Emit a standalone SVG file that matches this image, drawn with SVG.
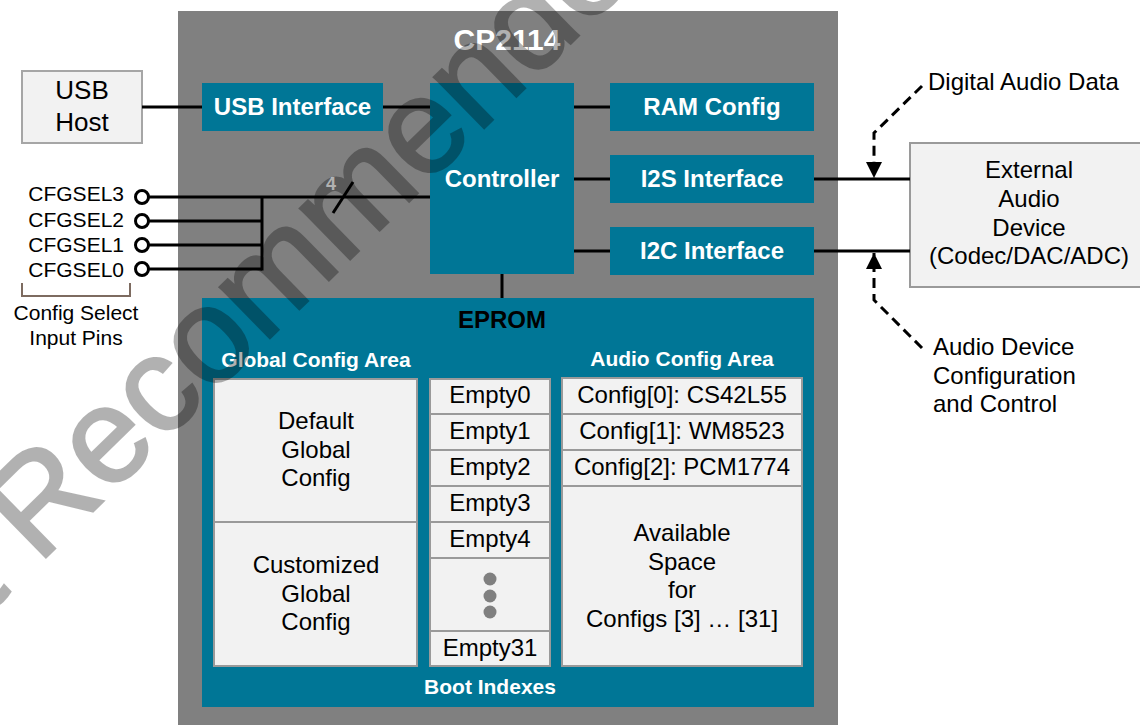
<svg xmlns="http://www.w3.org/2000/svg" width="1140" height="725" viewBox="0 0 1140 725">
<style>
  .t { font-family: "Liberation Sans", Arial, sans-serif; fill: #000; }
  .c { text-anchor: middle; }
  .r24 { font-size: 24px; }
  .r21 { font-size: 21px; }
  .bw { font-weight: bold; fill: #fff; }
  .teal { fill: #007696; }
  .cell { fill: #f2f2f2; stroke: #9a9a9a; stroke-width: 2; }
  .wire { stroke: #000; stroke-width: 3; fill: none; }
  .dash { stroke: #000; stroke-width: 3; fill: none; stroke-dasharray: 10 6; }
  .pin { fill: #fff; stroke: #000; stroke-width: 3; }
  .dot { fill: #808080; }
</style>
<defs>
  <marker id="ah" markerUnits="userSpaceOnUse" markerWidth="18" markerHeight="18" refX="16" refY="8" orient="auto">
    <path d="M0,0 L16,8 L0,16 z" fill="#000"/>
  </marker>
</defs>
<rect width="1140" height="725" fill="#fff"/>

<g id="cp2114">
  <rect x="178" y="11" width="660" height="720" fill="#808080"/>
  <text class="t bw c" x="507" y="50" font-size="30">CP2114</text>
</g>

<g id="usb-host">
  <rect x="22" y="71" width="120" height="72" fill="#f2f2f2" stroke="#a6a6a6" stroke-width="2"/>
  <text class="t c" font-size="26" x="82" y="99">USB</text>
  <text class="t c" font-size="26" x="82" y="131">Host</text>
</g>

<g id="usb-interface">
  <rect class="teal" x="202" y="83" width="181" height="48"/>
  <text class="t bw c" font-size="24" x="292.5" y="115">USB Interface</text>
</g>

<g id="controller">
  <rect class="teal" x="430" y="83" width="144" height="191"/>
  <text class="t bw c" font-size="24" x="502" y="187">Controller</text>
</g>

<g id="ram-config">
  <rect class="teal" x="610" y="83" width="204" height="48"/>
  <text class="t bw c" font-size="24" x="712" y="115">RAM Config</text>
</g>

<g id="i2s-interface">
  <rect class="teal" x="610" y="155" width="204" height="48"/>
  <text class="t bw c" font-size="24" x="712" y="187">I2S Interface</text>
</g>

<g id="i2c-interface">
  <rect class="teal" x="610" y="227" width="204" height="48"/>
  <text class="t bw c" font-size="24" x="712" y="259">I2C Interface</text>
</g>

<g id="eprom">
  <rect class="teal" x="202" y="298" width="612" height="409"/>
  <text class="t c" font-weight="bold" font-size="24" x="502" y="328">EPROM</text>
  <text class="t bw c" font-size="21" x="316" y="367">Global Config Area</text>
  <text class="t bw c" font-size="21" x="682" y="366">Audio Config Area</text>
  <text class="t bw c" font-size="21" x="490" y="694">Boot Indexes</text>
</g>

<g id="global-config">
  <rect class="cell" x="214" y="379" width="203" height="143"/>
  <rect class="cell" x="214" y="522" width="203" height="144"/>
  <text class="t r24 c" x="316" y="429">Default</text>
  <text class="t r24 c" x="316" y="458">Global</text>
  <text class="t r24 c" x="316" y="486">Config</text>
  <text class="t r24 c" x="316" y="573">Customized</text>
  <text class="t r24 c" x="316" y="602">Global</text>
  <text class="t r24 c" x="316" y="630">Config</text>
</g>

<g id="boot-indexes">
  <rect class="cell" x="430" y="379" width="120" height="35"/>
  <rect class="cell" x="430" y="414" width="120" height="36"/>
  <rect class="cell" x="430" y="450" width="120" height="36"/>
  <rect class="cell" x="430" y="486" width="120" height="36"/>
  <rect class="cell" x="430" y="522" width="120" height="36"/>
  <rect class="cell" x="430" y="558" width="120" height="73"/>
  <rect class="cell" x="430" y="631" width="120" height="35"/>
  <text class="t r24 c" x="490" y="403">Empty0</text>
  <text class="t r24 c" x="490" y="439">Empty1</text>
  <text class="t r24 c" x="490" y="475">Empty2</text>
  <text class="t r24 c" x="490" y="511">Empty3</text>
  <text class="t r24 c" x="490" y="547">Empty4</text>
  <circle class="dot" cx="490" cy="579" r="6.5"/>
  <circle class="dot" cx="490" cy="596" r="6.5"/>
  <circle class="dot" cx="490" cy="612" r="6.5"/>
  <text class="t r24 c" x="490" y="656">Empty31</text>
</g>

<g id="audio-config">
  <rect class="cell" x="562" y="378" width="240" height="36"/>
  <rect class="cell" x="562" y="414" width="240" height="36"/>
  <rect class="cell" x="562" y="450" width="240" height="36"/>
  <rect class="cell" x="562" y="486" width="240" height="180"/>
  <text class="t r24 c" x="682" y="403">Config[0]: CS42L55</text>
  <text class="t r24 c" x="682" y="439">Config[1]: WM8523</text>
  <text class="t r24 c" x="682" y="475">Config[2]: PCM1774</text>
  <text class="t r24 c" x="682" y="541">Available</text>
  <text class="t r24 c" x="682" y="570">Space</text>
  <text class="t r24 c" x="682" y="598">for</text>
  <text class="t r24 c" x="682" y="627">Configs [3] … [31]</text>
</g>

<g id="external-audio-device">
  <rect x="910" y="143" width="240" height="144" fill="#f2f2f2" stroke="#9a9a9a" stroke-width="2"/>
  <text class="t r24 c" x="1029" y="178">External</text>
  <text class="t r24 c" x="1029" y="207">Audio</text>
  <text class="t r24 c" x="1029" y="236">Device</text>
  <text class="t r24 c" x="1029" y="264">(Codec/DAC/ADC)</text>
</g>

<g id="config-select-pins">
  <text class="t r21" x="124" y="201" text-anchor="end">CFGSEL3</text>
  <text class="t r21" x="124" y="227" text-anchor="end">CFGSEL2</text>
  <text class="t r21" x="124" y="252" text-anchor="end">CFGSEL1</text>
  <text class="t r21" x="124" y="277" text-anchor="end">CFGSEL0</text>
  <path d="M22,283 V296 H130 V283" fill="none" stroke="#7d6b60" stroke-width="2"/>
  <text class="t r21 c" x="76" y="320">Config Select</text>
  <text class="t r21 c" x="76" y="345">Input Pins</text>
</g>

<g id="annotations">
  <text class="t r24" x="928" y="90">Digital Audio Data</text>
  <text class="t r24" x="933" y="355">Audio Device</text>
  <text class="t r24" x="933" y="384">Configuration</text>
  <text class="t r24" x="933" y="412">and Control</text>
</g>

<g id="connectors">
  <path class="wire" d="M142,107 H202"/>
  <path class="wire" d="M383,107 H430"/>
  <path class="wire" d="M574,107 H610"/>
  <path class="wire" d="M574,179 H610"/>
  <path class="wire" d="M574,251 H610"/>
  <path class="wire" d="M502,274 V298"/>
  <path class="wire" d="M814,179 H910"/>
  <path class="wire" d="M814,251 H910"/>
  <path class="wire" d="M148,197 H430"/>
  <path class="wire" d="M148,221 H262"/>
  <path class="wire" d="M148,245 H262"/>
  <path class="wire" d="M148,269 H262"/>
  <path class="wire" d="M262,197 V270.5"/>
  <path class="wire" d="M333,213 L353,182"/>
  <text class="t bw c" font-size="18" x="331" y="190">4</text>
  <circle class="pin" cx="142" cy="197" r="6.5"/>
  <circle class="pin" cx="142" cy="221" r="6.5"/>
  <circle class="pin" cx="142" cy="245" r="6.5"/>
  <circle class="pin" cx="142" cy="269" r="6.5"/>
  <path class="dash" d="M922,86 L874,133 V178" marker-end="url(#ah)"/>
  <path class="dash" d="M922,348 L874,300 V253" marker-end="url(#ah)"/>
</g>

<g id="watermark" opacity="0.3">
  <text transform="translate(38,565) rotate(-44.4)" x="-247.6" font-family="Liberation Sans, Arial, sans-serif" font-size="135" fill="#000" stroke="#000" stroke-width="2.5">Not Recommended for New Designs</text>
</g>
</svg>
